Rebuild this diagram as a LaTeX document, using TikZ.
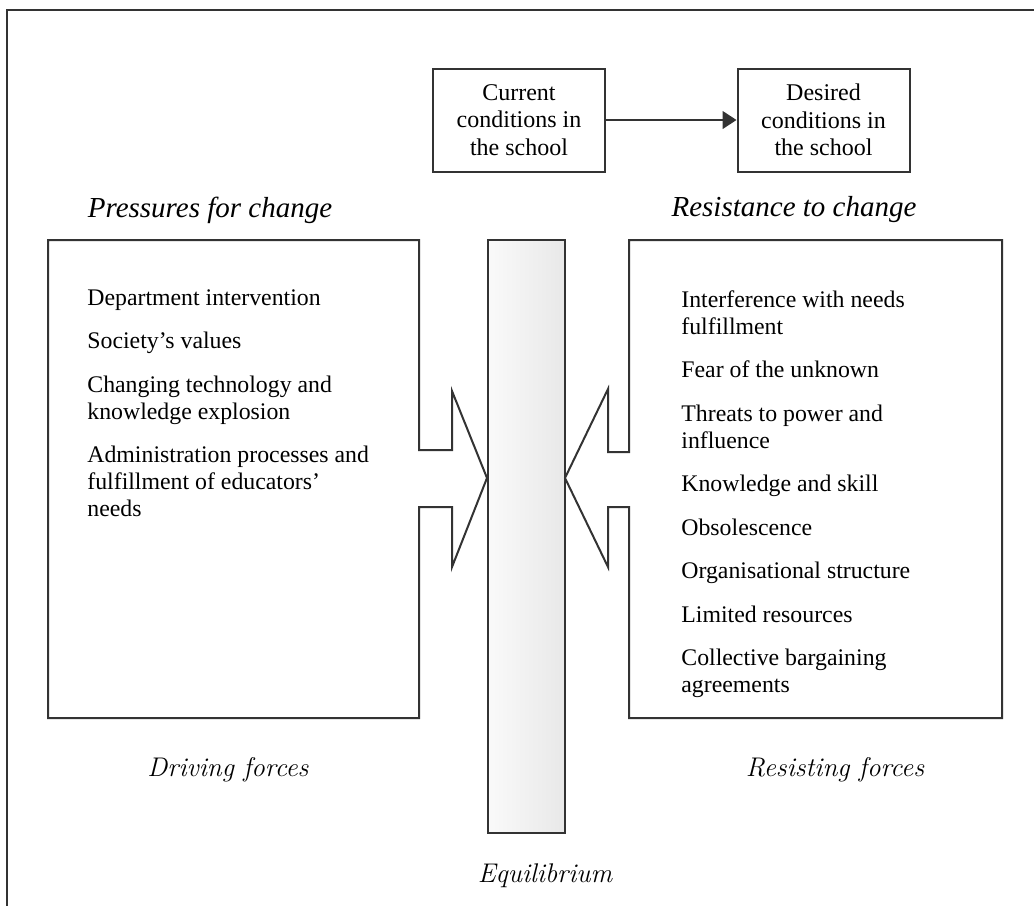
\documentclass[tikz,border=0pt]{standalone}
\usepackage{fontspec}
\newfontfamily\tnr{Liberation Serif}
\usetikzlibrary{arrows.meta}

\begin{document}
\begin{tikzpicture}[
    x=0.5pt, y=-0.5pt,
    line/.style={draw=black!80, line width=1pt},
    cond/.style={line, rectangle, align=center, inner sep=0pt,
      minimum width=86pt, minimum height=51.5pt,
      font=\tnr\fontsize{12}{13.75}\selectfont},
    headtxt/.style={font=\tnr\itshape\fontsize{14.5}{17}\selectfont, inner sep=0pt},
    forcelabel/.style={font=\itshape\fontsize{13.5}{16}\selectfont, inner sep=0pt},
    items/.style={align=left, anchor=north west, inner sep=0pt,
      font=\tnr\fontsize{11.9}{13.5}\selectfont}
  ]
  \useasboundingbox (0,0) rectangle (1034,906);
  % Frame.
  \draw[line] (1034,10) -- (7,10) -- (7,906);
  % Current and desired conditions.
  \node[cond] (cur) at (519,120) {Current\\conditions in\\the school};
  \node[cond] (des) at (823.5,120) {Desired\\conditions in\\the school};
  \draw[line, line width=0.6pt, -{Triangle[length=7pt,width=9pt]}] (cur) -- (des);
  \node[headtxt] (press) at (210,210) {Pressures for change};
  \node[headtxt] (resist) at (794,210) {Resistance to change};
  % Equilibrium bar.
  \draw[line, left color=gray!4, right color=gray!18] (488,240) rectangle (565,833);
  % Driving forces box with its arrow.
  \draw[line, line join=miter] (48,240) -- (419,240) -- (419,450) -- (452,450) -- (452,391)
    -- (487,478) -- (452,567) -- (452,507) -- (419,507) -- (419,718) -- (48,718) -- cycle;
  % Resisting forces box with its arrow.
  \draw[line, line join=miter] (1002,240) -- (629,240) -- (629,452) -- (608,452) -- (608,389)
    -- (565,478) -- (608,567) -- (608,507) -- (629,507) -- (629,718) -- (1002,718) -- cycle;
  \node[items] (drvlist) at (87,289) {Department intervention\\[8.25pt]
    Society’s values\\[8.25pt]
    Changing technology and\\knowledge explosion\\[8.25pt]
    Administration processes and\\fulfillment of educators’\\needs};
  \node[items] (reslist) at (681,290) {Interference with needs\\fulfillment\\[8.25pt]
    Fear of the unknown\\[8.25pt]
    Threats to power and\\influence\\[8.25pt]
    Knowledge and skill\\[8.25pt]
    Obsolescence\\[8.25pt]
    Organisational structure\\[8.25pt]
    Limited resources\\[8.25pt]
    Collective bargaining\\agreements};
  \node[forcelabel] (drive) at (228,770) {Driving forces};
  \node[forcelabel] (resf) at (835,770) {Resisting forces};
  \node[forcelabel] (equi) at (545,876) {Equilibrium};
\end{tikzpicture}
\end{document}
